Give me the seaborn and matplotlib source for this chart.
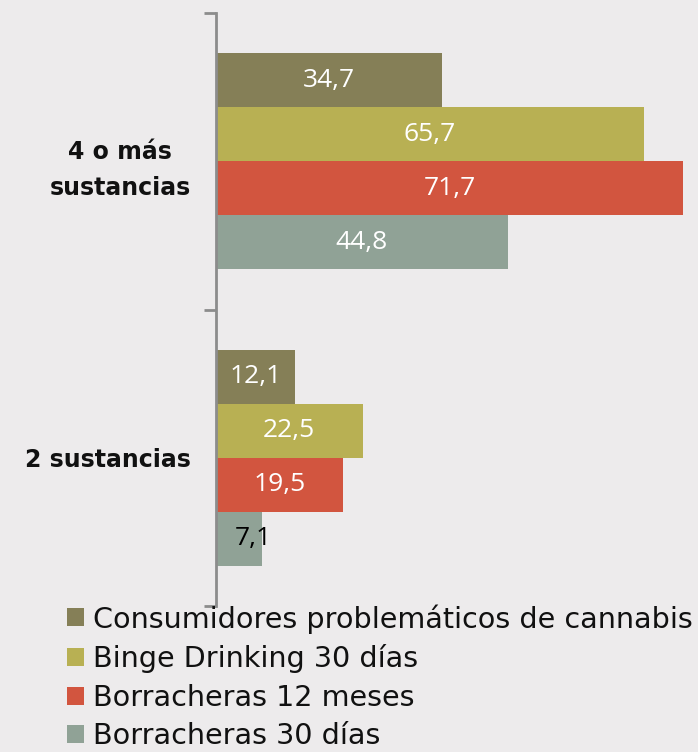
import matplotlib
matplotlib.use("Agg")
import matplotlib.pyplot as plt
import seaborn as sns
import pandas as pd
from matplotlib.patches import Patch
from matplotlib.ticker import FixedLocator

categories = ["4 o más\nsustancias", "2 sustancias"]
series = ["Consumidores problemáticos de cannabis", "Binge Drinking 30 días",
          "Borracheras 12 meses", "Borracheras 30 días"]
values = {
    "Consumidores problemáticos de cannabis": [34.7, 12.1],
    "Binge Drinking 30 días": [65.7, 22.5],
    "Borracheras 12 meses": [71.7, 19.5],
    "Borracheras 30 días": [44.8, 7.1],
}
colors = ["#857F57", "#B8B053", "#D2553F", "#90A296"]
label_colors = {"Borracheras 30 días": ["white", "black"]}

rows = []
for s in series:
    for c, v in zip(categories, values[s]):
        rows.append({"cat": c, "serie": s, "val": v})
df = pd.DataFrame(rows)

bg = "#EDEBEC"
sns.set_style("white")
fig = plt.figure(figsize=(6.98, 7.52), dpi=100, facecolor=bg)
ax = fig.add_axes([216/698, 1-606/752, 1-216/698, 593/752])
ax.set_facecolor(bg)

sns.barplot(data=df, y="cat", x="val", hue="serie", order=categories,
            hue_order=series, palette=colors, width=0.727, orient="h",
            saturation=1, legend=False, linewidth=0, ax=ax)

for s, cont in zip(series, ax.containers):
    cols = label_colors.get(s, ["white", "white"])
    for bar, v, col in zip(cont, values[s], cols):
        bar.set_linewidth(0)
        x = bar.get_width() / 2
        # short bar: label shifted so it sits mostly on the bar end
        if bar.get_width() < 10:
            x = bar.get_width() / 2 + 2.2
        ax.text(x, bar.get_y() + bar.get_height()/2, f"{v:.1f}".replace(".", ","),
                ha="center", va="center", color=col, fontsize=19,
                family="Open Sans")

ax.set_xlim(0, 74)
ax.set_ylim(1.5, -0.5)
ax.set_xlabel("")
ax.set_ylabel("")
ax.set_xticks([])
for sp in ["top", "right", "bottom"]:
    ax.spines[sp].set_visible(False)
ax.spines["left"].set_color("#8C8C8C")
ax.spines["left"].set_linewidth(2)
ax.yaxis.set_minor_locator(FixedLocator([-0.5, 0.5, 1.5]))
ax.tick_params(axis="y", which="minor", length=9, width=2, color="#8C8C8C", left=True)
ax.set_yticks([0, 1])
ax.set_yticklabels(categories, fontsize=17, fontweight="bold", family="DejaVu Sans",
                   color="#111111", linespacing=1.65)
for t in ax.get_yticklabels():
    t.set_multialignment("center")
ax.tick_params(axis="y", which="major", length=0, pad=18)

handles = [Patch(facecolor=c, edgecolor="none") for c in colors]
fig.legend(handles, series, loc="upper left", bbox_to_anchor=(67/698, 1-604/752),
           frameon=False, handlelength=0.6, handleheight=0.6,
           handletextpad=0.3, labelspacing=0.37, borderaxespad=0, borderpad=0,
           labelcolor="#111111",
           prop={"family": "DejaVu Sans", "size": 20.6})

fig.savefig("out.png", dpi=100, facecolor=bg)
